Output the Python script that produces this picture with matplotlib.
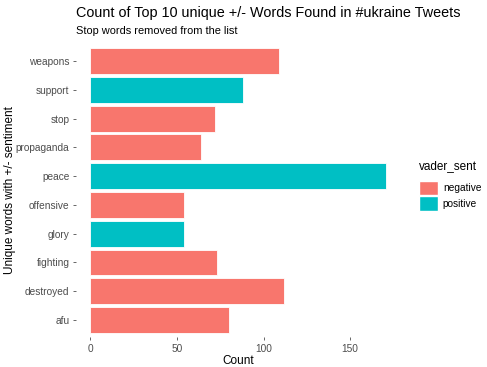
import matplotlib.pyplot as plt
from matplotlib.patches import Patch

plt.rcParams['font.family'] = ['Liberation Sans', 'DejaVu Sans']

words = ["weapons", "support", "stop", "propaganda", "peace",
         "offensive", "glory", "fighting", "destroyed", "afu"]
counts = [109, 88, 72, 64, 171, 54, 54, 73, 112, 80]
sentiment = ["negative", "positive", "negative", "negative", "positive",
             "negative", "positive", "negative", "negative", "negative"]
x_ticks = [0, 50, 100, 150]

colors = {"negative": "#F8766D", "positive": "#00BFC4"}

fig = plt.figure(figsize=(4.87, 3.67), dpi=100)
ax = fig.add_axes([0.1554, 0.0809, 0.6686, 0.80])

ypos = list(range(len(words)))[::-1]
ax.barh(ypos, counts, height=0.9,
        color=[colors[s] for s in sentiment],
        edgecolor="white", linewidth=0.6)

n = len(words)
ax.set_ylim(-0.6, n - 1 + 0.6)
xmax = max(counts)
ax.set_xlim(-0.05 * xmax, xmax * 1.05)
ax.set_yticks(ypos)
ax.set_yticklabels(words)
ax.set_xticks(x_ticks)

for s in ax.spines.values():
    s.set_visible(False)
ax.tick_params(axis="both", colors="#4D4D4D", labelcolor="#4D4D4D",
               labelsize=7.3, length=2.5, width=0.6, pad=2)

ax.set_xlabel("Count", fontsize=8.5, color="black", labelpad=1)
ax.set_ylabel("Unique words with +/- sentiment", fontsize=8.5, color="black")
ax.yaxis.set_label_coords(-0.202, 0.5)
ax.yaxis.label.set_va("center")

fig.text(0.156, 0.965, "Count of Top 10 unique +/- Words Found in #ukraine Tweets",
         fontsize=10.4, ha="left", va="center")
fig.text(0.156, 0.916, "Stop words removed from the list",
         fontsize=7.9, ha="left", va="center")

handles = [Patch(facecolor=colors[k], edgecolor="white", label=k) for k in ["negative", "positive"]]
leg = fig.legend(handles=handles, title="vader_sent", loc="upper left",
                 bbox_to_anchor=(0.852, 0.574), frameon=False, fontsize=7.3,
                 title_fontsize=8.5, handlelength=1.85, handleheight=1.85,
                 handletextpad=0.5, labelspacing=0.1, borderaxespad=0)
leg._legend_box.align = "left"
leg._legend_box.sep = 6

fig.savefig("out.png", dpi=100)
